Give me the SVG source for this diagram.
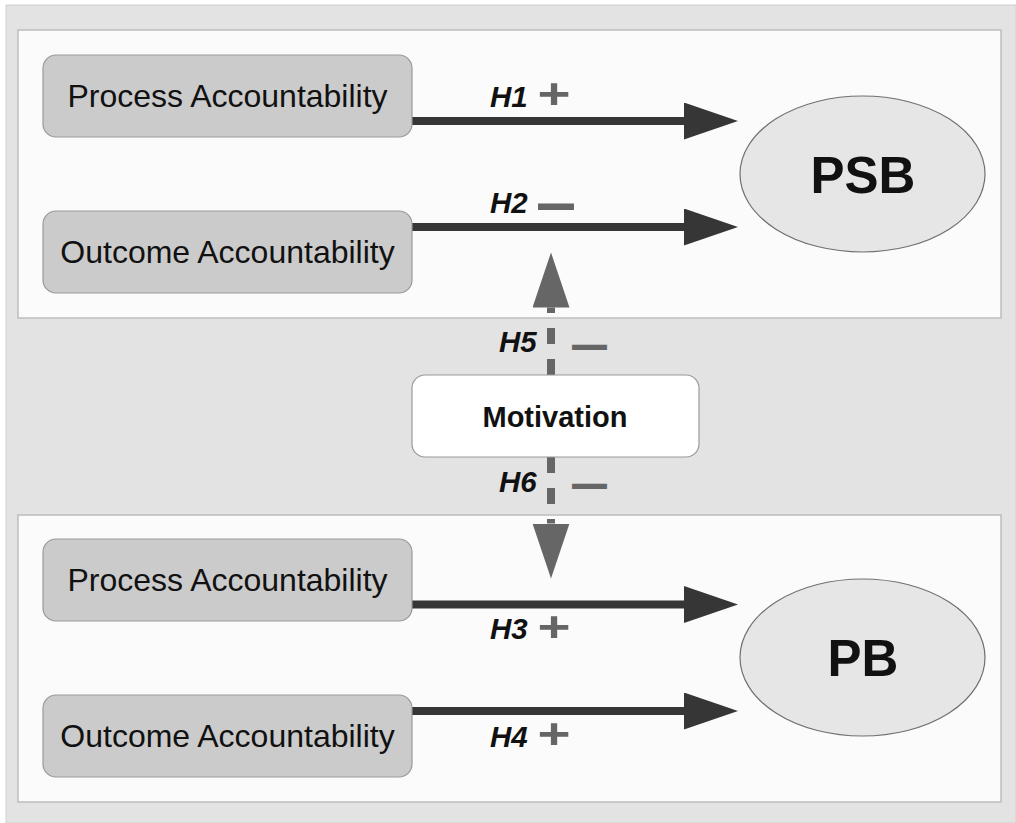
<svg xmlns="http://www.w3.org/2000/svg" width="1016" height="823" viewBox="0 0 1016 823">
  <style>
    .panel { fill: #fbfbfb; stroke: #bdbdbd; stroke-width: 1.5; }
    .box { fill: #cbcbcb; stroke: #9a9a9a; stroke-width: 1.2; }
    .mot { fill: #ffffff; stroke: #9a9a9a; stroke-width: 1.2; }
    .ell { fill: #e6e6e6; stroke: #707070; stroke-width: 1.2; }
    .lbl { font-family: "Liberation Sans", Arial, sans-serif; font-size: 32px; fill: #111; text-anchor: middle; }
    .big { font-family: "Liberation Sans", Arial, sans-serif; font-size: 51px; font-weight: bold; fill: #111; text-anchor: middle; }
    .motl { font-family: "Liberation Sans", Arial, sans-serif; font-size: 29px; font-weight: bold; fill: #111; text-anchor: middle; }
    .h { font-family: "Liberation Sans", Arial, sans-serif; font-size: 29.5px; font-weight: bold; font-style: italic; fill: #111; }
    .sign { font-family: "Liberation Sans", Arial, sans-serif; font-weight: bold; fill: #666; text-anchor: middle; }
    .main { stroke: #363636; stroke-width: 8; fill: none; marker-end: url(#headDark); }
    .dash { stroke: #666; stroke-width: 8; fill: none; stroke-dasharray: 16 15; marker-end: url(#headGray); }
  </style>
  <defs>
    <marker id="headDark" markerUnits="userSpaceOnUse" markerWidth="56" markerHeight="38" refX="6" refY="18.5" orient="auto" viewBox="0 0 56 38">
      <path d="M0,0 L54,18.5 L0,37 Z" fill="#363636"/>
    </marker>
    <marker id="headGray" markerUnits="userSpaceOnUse" markerWidth="56" markerHeight="38" refX="0" refY="18.5" orient="auto" viewBox="0 0 56 38">
      <path d="M0,0 L55,18.5 L0,37 Z" fill="#666"/>
    </marker>
  </defs>

  <rect x="6" y="5" width="1010" height="818" fill="#e3e3e3" stroke="#cfcfcf" stroke-width="1"/>
  <rect class="panel" x="18" y="30" width="983" height="288"/>
  <rect class="panel" x="18" y="515" width="983" height="287"/>

  <g id="connectors">
    <line class="main" x1="412" y1="121" x2="690" y2="121"/>
    <line class="main" x1="412" y1="227" x2="690" y2="227"/>
    <line class="main" x1="412" y1="604.5" x2="690" y2="604.5"/>
    <line class="main" x1="412" y1="711" x2="690" y2="711"/>
    <line class="dash" x1="551" y1="375" x2="551" y2="307.5"/>
    <line class="dash" x1="551" y1="457" x2="551" y2="523.5"/>

    <text class="h" x="490" y="106.5">H1</text>
    <text class="sign" font-size="54" transform="translate(554,93.5) scale(1.05,0.78)" y="19">+</text>
    <text class="h" x="490" y="213">H2</text>
    <text class="sign" font-size="36" transform="translate(556,207) scale(1,1.8)" y="9.5">—</text>
    <text class="h" x="490" y="638.5">H3</text>
    <text class="sign" font-size="54" transform="translate(554,626) scale(1.05,0.78)" y="19">+</text>
    <text class="h" x="490" y="746.5">H4</text>
    <text class="sign" font-size="54" transform="translate(554,733) scale(1.05,0.78)" y="19">+</text>
    <text class="h" x="499" y="351.5">H5</text>
    <text class="sign" font-size="35" transform="translate(589.5,347.5) scale(1,1.5)" y="9.2">—</text>
    <text class="h" x="499" y="491.5">H6</text>
    <text class="sign" font-size="35" transform="translate(589.5,486.5) scale(1,1.5)" y="9.2">—</text>
  </g>

  <g id="process-top">
    <rect class="box" x="43" y="55" width="369" height="82" rx="13"/>
    <text class="lbl" x="227.5" y="107">Process Accountability</text>
  </g>
  <g id="outcome-top">
    <rect class="box" x="43" y="211" width="369" height="82" rx="13"/>
    <text class="lbl" x="227.5" y="263">Outcome Accountability</text>
  </g>
  <g id="psb">
    <ellipse class="ell" cx="862.5" cy="174" rx="122.5" ry="78"/>
    <text class="big" x="863" y="193">PSB</text>
  </g>
  <g id="motivation">
    <rect class="mot" x="412" y="375" width="287" height="82" rx="13"/>
    <text class="motl" x="555" y="426.5">Motivation</text>
  </g>
  <g id="process-bottom">
    <rect class="box" x="43" y="539" width="369" height="82" rx="13"/>
    <text class="lbl" x="227.5" y="591">Process Accountability</text>
  </g>
  <g id="outcome-bottom">
    <rect class="box" x="43" y="695" width="369" height="82" rx="13"/>
    <text class="lbl" x="227.5" y="747">Outcome Accountability</text>
  </g>
  <g id="pb">
    <ellipse class="ell" cx="862.5" cy="657.5" rx="122.5" ry="78.5"/>
    <text class="big" x="863" y="676">PB</text>
  </g>
</svg>
